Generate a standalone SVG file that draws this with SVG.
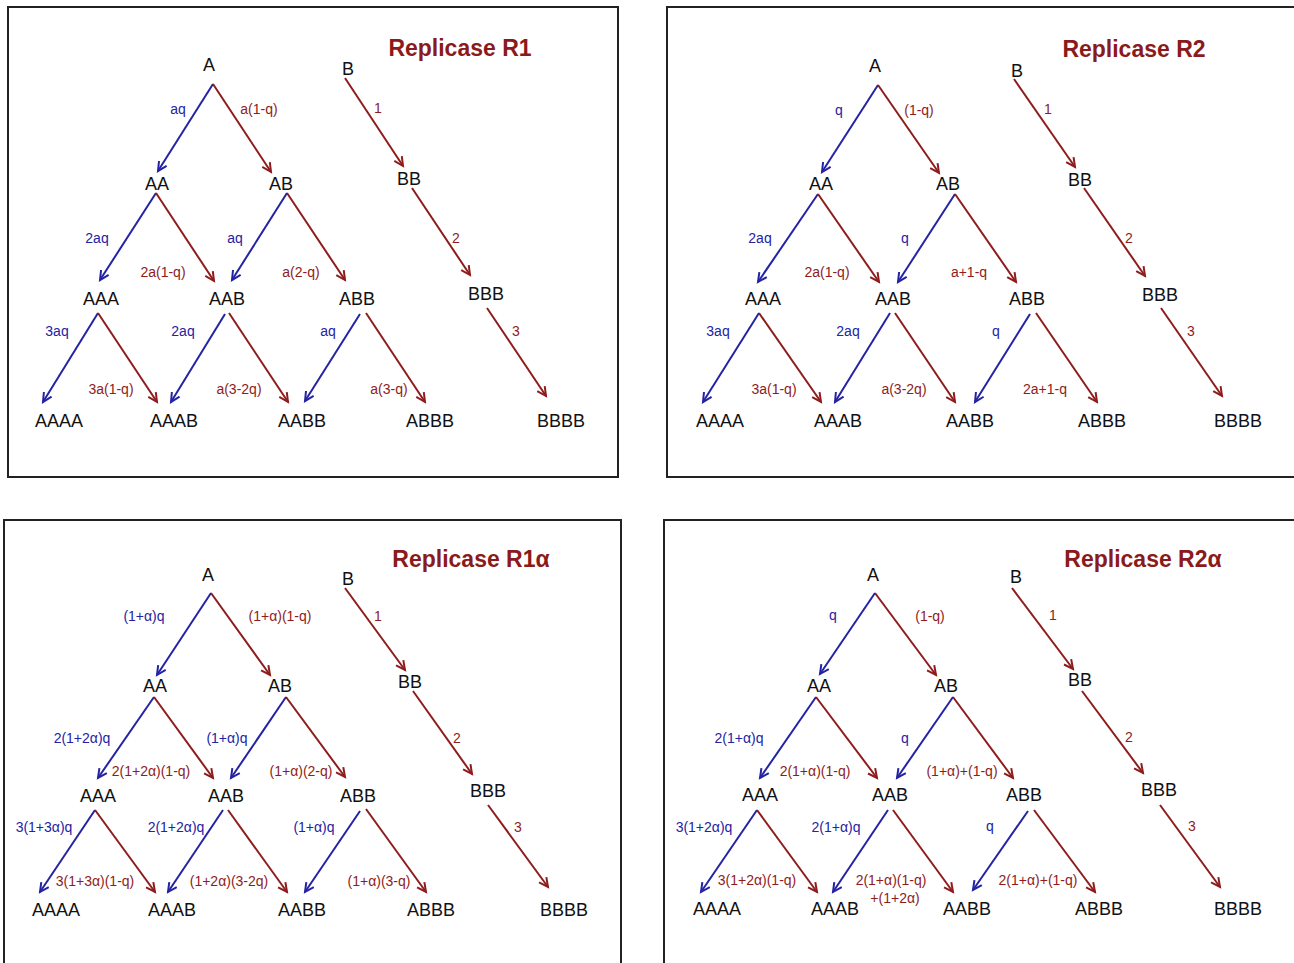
<svg xmlns="http://www.w3.org/2000/svg" width="1294" height="963" viewBox="0 0 1294 963">
<style>
.bg{fill:#ffffff}
.frame{fill:none;stroke:#222;stroke-width:2}
.n{font-family:"Liberation Sans",Arial,sans-serif;font-size:18px;fill:#111;text-anchor:middle}
.lb{font-family:"Liberation Sans",Arial,sans-serif;font-size:14px;fill:#2323a3;text-anchor:middle}
.lr{font-family:"Liberation Sans",Arial,sans-serif;font-size:14px;fill:#8e1c1c;text-anchor:middle}
.t{font-family:"Liberation Sans",Arial,sans-serif;font-size:23px;font-weight:bold;fill:#8b1a1a;text-anchor:middle}
.eb{stroke:#2323a3;stroke-width:2;fill:none;marker-end:url(#mb)}
.er{stroke:#8e1c1c;stroke-width:2;fill:none;marker-end:url(#mr)}
</style>
<defs>
<marker id="mb" markerUnits="userSpaceOnUse" markerWidth="16" markerHeight="16" viewBox="-12 -8 16 16" refX="0" refY="0" orient="auto"><path d="M-9,-4.5 L0,0 L-9,4.5" fill="none" stroke="#2323a3" stroke-width="2"/></marker>
<marker id="mr" markerUnits="userSpaceOnUse" markerWidth="16" markerHeight="16" viewBox="-12 -8 16 16" refX="0" refY="0" orient="auto"><path d="M-9,-4.5 L0,0 L-9,4.5" fill="none" stroke="#8e1c1c" stroke-width="2"/></marker>
</defs>
<rect class="bg" x="0" y="0" width="1294" height="963"/>

<!-- Panel 1 -->
<g id="panel1">
<rect class="frame" x="8" y="7" width="610" height="470"/>
<text class="t" x="460" y="56">Replicase R1</text>
<g id="connectors1">
<line class="eb" x1="213" y1="84" x2="158" y2="171"/>
<line class="er" x1="213" y1="84" x2="271" y2="172"/>
<line class="er" x1="345" y1="78" x2="403" y2="166"/>
<line class="eb" x1="156" y1="193" x2="100" y2="280"/>
<line class="er" x1="156" y1="193" x2="214" y2="281"/>
<line class="eb" x1="287" y1="193" x2="232" y2="280"/>
<line class="er" x1="287" y1="193" x2="345" y2="280"/>
<line class="er" x1="412" y1="188" x2="470" y2="275"/>
<line class="eb" x1="98" y1="313" x2="43" y2="402"/>
<line class="er" x1="98" y1="313" x2="157" y2="402"/>
<line class="eb" x1="225" y1="314" x2="171" y2="402"/>
<line class="er" x1="229" y1="313" x2="288" y2="402"/>
<line class="eb" x1="360" y1="314" x2="305" y2="401"/>
<line class="er" x1="366" y1="313" x2="425" y2="402"/>
<line class="er" x1="487" y1="308" x2="546" y2="396"/>
</g>
<g id="labels1">
<text class="lb" x="178" y="114">aq</text>
<text class="lr" x="259" y="114">a(1-q)</text>
<text class="lr" x="378" y="113">1</text>
<text class="lb" x="97" y="243">2aq</text>
<text class="lr" x="163" y="277">2a(1-q)</text>
<text class="lb" x="235" y="243">aq</text>
<text class="lr" x="301" y="277">a(2-q)</text>
<text class="lr" x="456" y="243">2</text>
<text class="lb" x="57" y="336">3aq</text>
<text class="lr" x="111" y="394">3a(1-q)</text>
<text class="lb" x="183" y="336">2aq</text>
<text class="lr" x="239" y="394">a(3-2q)</text>
<text class="lb" x="328" y="336">aq</text>
<text class="lr" x="389" y="394">a(3-q)</text>
<text class="lr" x="516" y="336">3</text>
</g>
<g id="p1-A"><text class="n" x="209" y="71">A</text></g>
<g id="p1-B"><text class="n" x="348" y="75">B</text></g>
<g id="p1-AA"><text class="n" x="157" y="190">AA</text></g>
<g id="p1-AB"><text class="n" x="281" y="190">AB</text></g>
<g id="p1-BB"><text class="n" x="409" y="185">BB</text></g>
<g id="p1-AAA"><text class="n" x="101" y="305">AAA</text></g>
<g id="p1-AAB"><text class="n" x="227" y="305">AAB</text></g>
<g id="p1-ABB"><text class="n" x="357" y="305">ABB</text></g>
<g id="p1-BBB"><text class="n" x="486" y="300">BBB</text></g>
<g id="p1-AAAA"><text class="n" x="59" y="427">AAAA</text></g>
<g id="p1-AAAB"><text class="n" x="174" y="427">AAAB</text></g>
<g id="p1-AABB"><text class="n" x="302" y="427">AABB</text></g>
<g id="p1-ABBB"><text class="n" x="430" y="427">ABBB</text></g>
<g id="p1-BBBB"><text class="n" x="561" y="427">BBBB</text></g>
</g>

<!-- Panel 2 -->
<g id="panel2">
<path class="frame" d="M1296,7 L667,7 L667,477 L1296,477"/>
<text class="t" x="1134" y="57">Replicase R2</text>
<g id="connectors2">
<line class="eb" x1="878" y1="85" x2="822" y2="172"/>
<line class="er" x1="878" y1="85" x2="939" y2="173"/>
<line class="er" x1="1014" y1="79" x2="1075" y2="167"/>
<line class="eb" x1="818" y1="194" x2="758" y2="282"/>
<line class="er" x1="818" y1="194" x2="879" y2="282"/>
<line class="eb" x1="955" y1="194" x2="898" y2="282"/>
<line class="er" x1="955" y1="194" x2="1016" y2="282"/>
<line class="er" x1="1084" y1="188" x2="1145" y2="276"/>
<line class="eb" x1="759" y1="313" x2="703" y2="402"/>
<line class="er" x1="759" y1="313" x2="821" y2="402"/>
<line class="eb" x1="890" y1="313" x2="835" y2="402"/>
<line class="er" x1="895" y1="313" x2="955" y2="402"/>
<line class="eb" x1="1030" y1="314" x2="975" y2="402"/>
<line class="er" x1="1036" y1="313" x2="1097" y2="402"/>
<line class="er" x1="1161" y1="308" x2="1222" y2="396"/>
</g>
<g id="labels2">
<text class="lb" x="839" y="115">q</text>
<text class="lr" x="919" y="115">(1-q)</text>
<text class="lr" x="1048" y="114">1</text>
<text class="lb" x="760" y="243">2aq</text>
<text class="lr" x="827" y="277">2a(1-q)</text>
<text class="lb" x="905" y="243">q</text>
<text class="lr" x="969" y="277">a+1-q</text>
<text class="lr" x="1129" y="243">2</text>
<text class="lb" x="718" y="336">3aq</text>
<text class="lr" x="774" y="394">3a(1-q)</text>
<text class="lb" x="848" y="336">2aq</text>
<text class="lr" x="904" y="394">a(3-2q)</text>
<text class="lb" x="996" y="336">q</text>
<text class="lr" x="1045" y="394">2a+1-q</text>
<text class="lr" x="1191" y="336">3</text>
</g>
<g id="p2-A"><text class="n" x="875" y="72">A</text></g>
<g id="p2-B"><text class="n" x="1017" y="77">B</text></g>
<g id="p2-AA"><text class="n" x="821" y="190">AA</text></g>
<g id="p2-AB"><text class="n" x="948" y="190">AB</text></g>
<g id="p2-BB"><text class="n" x="1080" y="186">BB</text></g>
<g id="p2-AAA"><text class="n" x="763" y="305">AAA</text></g>
<g id="p2-AAB"><text class="n" x="893" y="305">AAB</text></g>
<g id="p2-ABB"><text class="n" x="1027" y="305">ABB</text></g>
<g id="p2-BBB"><text class="n" x="1160" y="301">BBB</text></g>
<g id="p2-AAAA"><text class="n" x="720" y="427">AAAA</text></g>
<g id="p2-AAAB"><text class="n" x="838" y="427">AAAB</text></g>
<g id="p2-AABB"><text class="n" x="970" y="427">AABB</text></g>
<g id="p2-ABBB"><text class="n" x="1102" y="427">ABBB</text></g>
<g id="p2-BBBB"><text class="n" x="1238" y="427">BBBB</text></g>
</g>

<!-- Panel 3 -->
<g id="panel3">
<path class="frame" d="M4,966 L4,520 L621,520 L621,966"/>
<text class="t" x="471" y="567">Replicase R1α</text>
<g id="connectors3">
<line class="eb" x1="211" y1="593" x2="157" y2="675"/>
<line class="er" x1="211" y1="593" x2="270" y2="675"/>
<line class="er" x1="345" y1="588" x2="405" y2="670"/>
<line class="eb" x1="154" y1="697" x2="98" y2="778"/>
<line class="er" x1="154" y1="697" x2="213" y2="778"/>
<line class="eb" x1="286" y1="697" x2="231" y2="778"/>
<line class="er" x1="286" y1="697" x2="345" y2="777"/>
<line class="er" x1="413" y1="691" x2="472" y2="774"/>
<line class="eb" x1="95" y1="810" x2="40" y2="892"/>
<line class="er" x1="95" y1="810" x2="155" y2="892"/>
<line class="eb" x1="223" y1="810" x2="168" y2="892"/>
<line class="er" x1="228" y1="810" x2="287" y2="892"/>
<line class="eb" x1="360" y1="811" x2="305" y2="892"/>
<line class="er" x1="366" y1="809" x2="426" y2="892"/>
<line class="er" x1="488" y1="805" x2="548" y2="887"/>
</g>
<g id="labels3">
<text class="lb" x="144" y="621">(1+α)q</text>
<text class="lr" x="280" y="621">(1+α)(1-q)</text>
<text class="lr" x="378" y="621">1</text>
<text class="lb" x="82" y="743">2(1+2α)q</text>
<text class="lb" x="227" y="743">(1+α)q</text>
<text class="lr" x="457" y="743">2</text>
<text class="lr" x="151" y="776">2(1+2α)(1-q)</text>
<text class="lr" x="301" y="776">(1+α)(2-q)</text>
<text class="lb" x="44" y="832">3(1+3α)q</text>
<text class="lb" x="176" y="832">2(1+2α)q</text>
<text class="lb" x="314" y="832">(1+α)q</text>
<text class="lr" x="518" y="832">3</text>
<text class="lr" x="95" y="886">3(1+3α)(1-q)</text>
<text class="lr" x="229" y="886">(1+2α)(3-2q)</text>
<text class="lr" x="379" y="886">(1+α)(3-q)</text>
</g>
<g id="p3-A"><text class="n" x="208" y="581">A</text></g>
<g id="p3-B"><text class="n" x="348" y="585">B</text></g>
<g id="p3-AA"><text class="n" x="155" y="692">AA</text></g>
<g id="p3-AB"><text class="n" x="280" y="692">AB</text></g>
<g id="p3-BB"><text class="n" x="410" y="688">BB</text></g>
<g id="p3-AAA"><text class="n" x="98" y="802">AAA</text></g>
<g id="p3-AAB"><text class="n" x="226" y="802">AAB</text></g>
<g id="p3-ABB"><text class="n" x="358" y="802">ABB</text></g>
<g id="p3-BBB"><text class="n" x="488" y="797">BBB</text></g>
<g id="p3-AAAA"><text class="n" x="56" y="916">AAAA</text></g>
<g id="p3-AAAB"><text class="n" x="172" y="916">AAAB</text></g>
<g id="p3-AABB"><text class="n" x="302" y="916">AABB</text></g>
<g id="p3-ABBB"><text class="n" x="431" y="916">ABBB</text></g>
<g id="p3-BBBB"><text class="n" x="564" y="916">BBBB</text></g>
</g>

<!-- Panel 4 -->
<g id="panel4">
<path class="frame" d="M664,966 L664,520 L1296,520"/>
<text class="t" x="1143" y="567">Replicase R2α</text>
<g id="connectors4">
<line class="eb" x1="875" y1="593" x2="820" y2="674"/>
<line class="er" x1="875" y1="593" x2="936" y2="675"/>
<line class="er" x1="1012" y1="588" x2="1073" y2="669"/>
<line class="eb" x1="816" y1="697" x2="760" y2="778"/>
<line class="er" x1="816" y1="697" x2="877" y2="778"/>
<line class="eb" x1="953" y1="697" x2="897" y2="778"/>
<line class="er" x1="953" y1="697" x2="1013" y2="778"/>
<line class="er" x1="1082" y1="691" x2="1143" y2="773"/>
<line class="eb" x1="757" y1="810" x2="701" y2="892"/>
<line class="er" x1="757" y1="810" x2="817" y2="892"/>
<line class="eb" x1="888" y1="810" x2="833" y2="892"/>
<line class="er" x1="893" y1="810" x2="953" y2="892"/>
<line class="eb" x1="1028" y1="811" x2="973" y2="890"/>
<line class="er" x1="1034" y1="810" x2="1095" y2="892"/>
<line class="er" x1="1160" y1="805" x2="1220" y2="887"/>
</g>
<g id="labels4">
<text class="lb" x="833" y="620">q</text>
<text class="lr" x="930" y="621">(1-q)</text>
<text class="lr" x="1053" y="620">1</text>
<text class="lb" x="739" y="743">2(1+α)q</text>
<text class="lb" x="905" y="743">q</text>
<text class="lr" x="1129" y="742">2</text>
<text class="lr" x="815" y="776">2(1+α)(1-q)</text>
<text class="lr" x="962" y="776">(1+α)+(1-q)</text>
<text class="lb" x="704" y="832">3(1+2α)q</text>
<text class="lb" x="836" y="832">2(1+α)q</text>
<text class="lb" x="990" y="831">q</text>
<text class="lr" x="1192" y="831">3</text>
<text class="lr" x="757" y="885">3(1+2α)(1-q)</text>
<text class="lr" x="891" y="885">2(1+α)(1-q)</text>
<text class="lr" x="895" y="903">+(1+2α)</text>
<text class="lr" x="1038" y="885">2(1+α)+(1-q)</text>
</g>
<g id="p4-A"><text class="n" x="873" y="581">A</text></g>
<g id="p4-B"><text class="n" x="1016" y="583">B</text></g>
<g id="p4-AA"><text class="n" x="819" y="692">AA</text></g>
<g id="p4-AB"><text class="n" x="946" y="692">AB</text></g>
<g id="p4-BB"><text class="n" x="1080" y="686">BB</text></g>
<g id="p4-AAA"><text class="n" x="760" y="801">AAA</text></g>
<g id="p4-AAB"><text class="n" x="890" y="801">AAB</text></g>
<g id="p4-ABB"><text class="n" x="1024" y="801">ABB</text></g>
<g id="p4-BBB"><text class="n" x="1159" y="796">BBB</text></g>
<g id="p4-AAAA"><text class="n" x="717" y="915">AAAA</text></g>
<g id="p4-AAAB"><text class="n" x="835" y="915">AAAB</text></g>
<g id="p4-AABB"><text class="n" x="967" y="915">AABB</text></g>
<g id="p4-ABBB"><text class="n" x="1099" y="915">ABBB</text></g>
<g id="p4-BBBB"><text class="n" x="1238" y="915">BBBB</text></g>
</g>
</svg>
